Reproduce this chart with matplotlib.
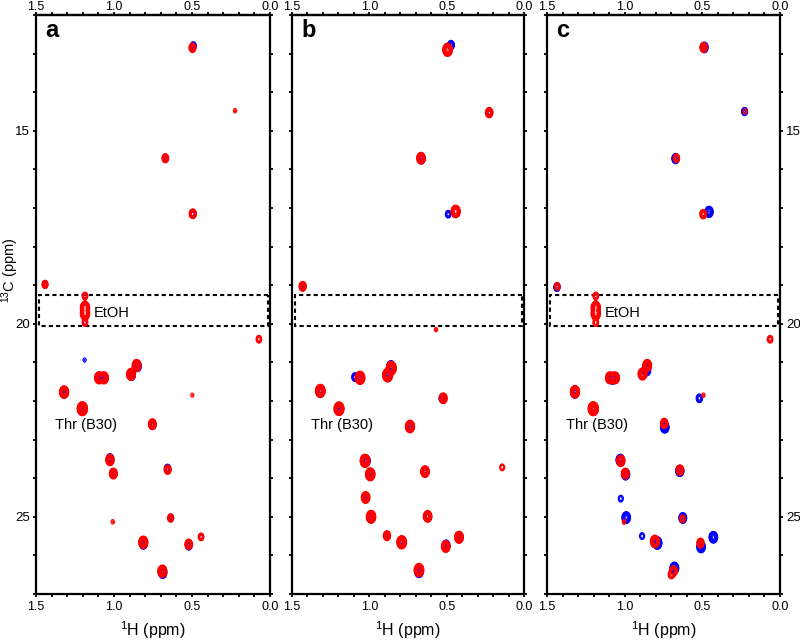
import numpy as np
import matplotlib
matplotlib.use("Agg")
import matplotlib.pyplot as plt
from matplotlib.patches import Rectangle
from matplotlib.ticker import FixedLocator, FuncFormatter

plt.rcParams['font.family'] = ['Liberation Sans', 'DejaVu Sans']
plt.rcParams['mathtext.default'] = 'regular'

# ---------------- peak lists (1H ppm, 13C ppm, relative intensity) ----------------
A_RED_H = [0.497, 0.224, 0.671, 0.495, 1.442, 1.186, 1.186, 1.186, 1.186, 0.071, 1.096, 1.064, 0.891, 0.855,
           1.320, 0.498, 1.203, 0.754, 1.026, 1.004, 0.656, 1.008, 0.637, 0.812, 0.521, 0.442, 0.690]
A_RED_C = [12.85, 14.48, 15.71, 17.15, 18.98, 19.28, 19.58, 19.74, 19.97, 20.40, 21.40, 21.40, 21.31, 21.08,
           21.77, 21.85, 22.20, 22.60, 23.53, 23.88, 23.78, 25.13, 25.03, 25.66, 25.71, 25.52, 26.41]
A_RED_AMP = [8, 1.6, 7, 9, 5, 4, 40, 40, 4, 4, 30, 30, 30, 30, 40, 1.5, 100, 15, 20, 15, 8, 1.6, 5, 35, 12, 4, 35]

A_BLUE_H = [0.492, 0.671, 0.495, 1.442, 1.186, 1.186, 1.188, 1.084, 0.888, 0.850, 1.320, 1.203, 0.754, 1.026,
            1.004, 0.657, 0.636, 0.812, 0.521, 0.442, 0.688]
A_BLUE_C = [12.80, 15.71, 17.15, 18.98, 19.28, 19.97, 20.94, 21.40, 21.33, 21.10, 21.77, 22.20, 22.62, 23.50,
            23.88, 23.75, 25.03, 25.70, 25.74, 25.52, 26.45]
A_BLUE_AMP = [5, 4, 6, 3, 3, 3, 1.5, 15, 15, 15, 15, 30, 8, 12, 8, 6, 4, 15, 8, 3, 20]

B_RED_H = [0.494, 0.225, 0.666, 0.442, 1.431, 0.569, 1.060, 0.882, 0.858, 1.317, 0.522, 1.196, 0.737, 1.028,
           0.994, 0.640, 0.141, 1.024, 0.989, 0.623, 0.886, 0.791, 0.420, 0.506, 0.679]
B_RED_C = [12.90, 14.53, 15.71, 17.09, 19.03, 20.15, 21.40, 21.33, 21.15, 21.74, 21.93, 22.20, 22.66, 23.55,
           23.90, 23.83, 23.72, 24.50, 25.00, 24.99, 25.49, 25.66, 25.53, 25.77, 26.38]
B_RED_AMP = [60, 12, 25, 40, 10, 1.6, 60, 80, 80, 60, 15, 80, 40, 60, 50, 25, 3, 25, 50, 25, 10, 60, 30, 25, 60]

B_BLUE_H = [0.472, 0.225, 0.663, 0.490, 1.431, 1.093, 1.060, 0.860, 0.878, 1.317, 0.527, 1.196, 0.737, 1.022,
            0.994, 0.640, 1.024, 0.989, 0.623, 0.886, 0.791, 0.420, 0.504, 0.679]
B_BLUE_C = [12.78, 14.53, 15.73, 17.16, 19.03, 21.38, 21.40, 21.10, 21.30, 21.74, 21.93, 22.20, 22.66, 23.55,
            23.90, 23.83, 24.50, 25.00, 24.99, 25.49, 25.66, 25.53, 25.74, 26.42]
B_BLUE_AMP = [8, 6, 10, 4, 5, 6, 20, 20, 20, 25, 8, 30, 20, 25, 20, 12, 10, 20, 12, 5, 25, 15, 15, 30]

C_RED_H = [0.492, 0.225, 0.667, 0.494, 1.434, 1.186, 1.186, 1.186, 1.186, 0.064, 1.095, 1.062, 0.885, 0.855,
           1.320, 0.493, 1.202, 0.745, 1.025, 0.996, 0.644, 1.004, 0.628, 0.805, 0.512, 0.700, 0.685]
C_RED_C = [12.84, 14.50, 15.71, 17.16, 19.03, 19.28, 19.58, 19.74, 19.97, 20.40, 21.40, 21.40, 21.30, 21.08,
           21.76, 21.85, 22.20, 22.58, 23.55, 23.88, 23.79, 25.13, 25.05, 25.64, 25.68, 26.50, 26.40]
C_RED_AMP = [10, 2, 6, 8, 4, 4, 40, 40, 4, 4, 30, 30, 30, 30, 40, 1.6, 100, 12, 20, 15, 12, 1.8, 4, 40, 10, 5, 12]

C_BLUE_H = [0.488, 0.228, 0.672, 0.457, 1.436, 1.078, 0.860, 1.320, 0.519, 1.202, 0.742, 1.028, 0.994, 0.645,
            1.025, 0.990, 0.626, 0.888, 0.790, 0.429, 0.508, 0.680]
C_BLUE_C = [12.84, 14.50, 15.72, 17.10, 19.05, 21.42, 21.20, 21.78, 21.93, 22.20, 22.68, 23.53, 23.90, 23.81,
            24.53, 25.02, 25.03, 25.50, 25.68, 25.53, 25.78, 26.33]
C_BLUE_AMP = [15, 5, 12, 20, 6, 20, 25, 20, 6, 40, 25, 25, 20, 20, 3, 25, 15, 3, 40, 25, 25, 30]

PANEL_LABELS = ['a', 'b', 'c']
X_MAJOR = [1.5, 1.0, 0.5, 0.0]
X_MINOR = [1.4, 1.3, 1.2, 1.1, 0.9, 0.8, 0.7, 0.6, 0.4, 0.3, 0.2, 0.1]
Y_TICKS = list(range(12, 28))
Y_LABELED = [15, 20, 25]

# ---------------- spectrum synthesis ----------------
SIG_H = 0.011
SIG_C = 0.06
HH = np.linspace(0.0, 1.5, 1001)
CC = np.linspace(12.0, 27.0, 1501)
LEVELS = 1.0 * 1.45 ** np.arange(14)


def spectrum(hs, cs, amps):
    Z = np.zeros((CC.size, HH.size))
    for h, c, a in zip(hs, cs, amps):
        Z += a * np.outer(np.exp(-0.5 * ((CC - c) / SIG_C) ** 2),
                          np.exp(-0.5 * ((HH - h) / SIG_H) ** 2))
    return Z


panels = [
    ((A_RED_H, A_RED_C, A_RED_AMP), (A_BLUE_H, A_BLUE_C, A_BLUE_AMP)),
    ((B_RED_H, B_RED_C, B_RED_AMP), (B_BLUE_H, B_BLUE_C, B_BLUE_AMP)),
    ((C_RED_H, C_RED_C, C_RED_AMP), (C_BLUE_H, C_BLUE_C, C_BLUE_AMP)),
]

fig = plt.figure(figsize=(8, 6.43), dpi=100)
lefts = [36 / 800, 292 / 800, 547 / 800]
widths = [234 / 800, 232 / 800, 233 / 800]
bottom = 49 / 643
height = 579 / 643

ylab_fmt = FuncFormatter(lambda v, p: f"{int(round(v))}" if int(round(v)) in Y_LABELED else "")
xlab_fmt = FuncFormatter(lambda v, p: f"{abs(v):.1f}")

for i, (red, blue) in enumerate(panels):
    ax = fig.add_axes([lefts[i], bottom, widths[i], height])
    Zb = spectrum(*blue)
    Zr = spectrum(*red)
    ax.contour(HH, CC, Zb, levels=LEVELS, colors='#0000ff', linewidths=0.8)
    ax.contour(HH, CC, Zr, levels=LEVELS, colors='#ff0000', linewidths=0.8)

    ax.set_xlim(1.5, 0.0)
    ax.set_ylim(27, 12)

    for s in ax.spines.values():
        s.set_linewidth(1.6)

    ax.xaxis.set_major_locator(FixedLocator(X_MAJOR))
    ax.xaxis.set_minor_locator(FixedLocator(X_MINOR))
    ax.xaxis.set_major_formatter(xlab_fmt)
    ax.yaxis.set_major_locator(FixedLocator(Y_TICKS))
    ax.yaxis.set_major_formatter(ylab_fmt)

    ax.tick_params(axis='x', which='both', direction='out', top=False, bottom=True,
                   labeltop=False, labelbottom=True, labelsize=9, width=1.3)
    ax.tick_params(axis='x', which='major', length=2.2, pad=2.5)
    ax.tick_params(axis='x', which='minor', length=2.0)
    ax.tick_params(axis='y', which='major', direction='out', left=True, right=True,
                   length=2.5, width=1.3, labelsize=9.5, pad=2,
                   labelleft=(i == 0), labelright=(i == 2))

    sec = ax.secondary_xaxis('top')
    sec.xaxis.set_major_locator(FixedLocator(X_MAJOR))
    sec.xaxis.set_minor_locator(FixedLocator(X_MINOR))
    sec.xaxis.set_major_formatter(xlab_fmt)
    sec.tick_params(axis='x', which='both', direction='out', labelsize=9, width=1.3)
    sec.tick_params(axis='x', which='major', length=2.2, pad=-1.0)
    sec.tick_params(axis='x', which='minor', length=2.0)
    for s in sec.spines.values():
        s.set_linewidth(1.6)

    ax.set_xlabel('$^{1}$H (ppm)', fontsize=11.5, labelpad=5)
    if i == 0:
        ax.set_ylabel('$^{13}$C (ppm)', fontsize=10.5)
        ax.yaxis.set_label_coords(-0.062, 0.56)

    ax.text(1.44, 12.57, PANEL_LABELS[i], fontsize=17, fontweight='bold', ha='left', va='baseline')

    ax.add_patch(Rectangle((0.015, 19.25), 1.465, 0.81, fill=False, edgecolor='black',
                           linewidth=1.5, linestyle=(0, (2, 1.5))))
    if i != 1:
        ax.text(1.13, 19.72, 'EtOH', fontsize=10.5, ha='left', va='center')
    ax.text(1.38, 22.62, 'Thr (B30)', fontsize=10.5, ha='left', va='center')

fig.savefig('out.png', dpi=100)
